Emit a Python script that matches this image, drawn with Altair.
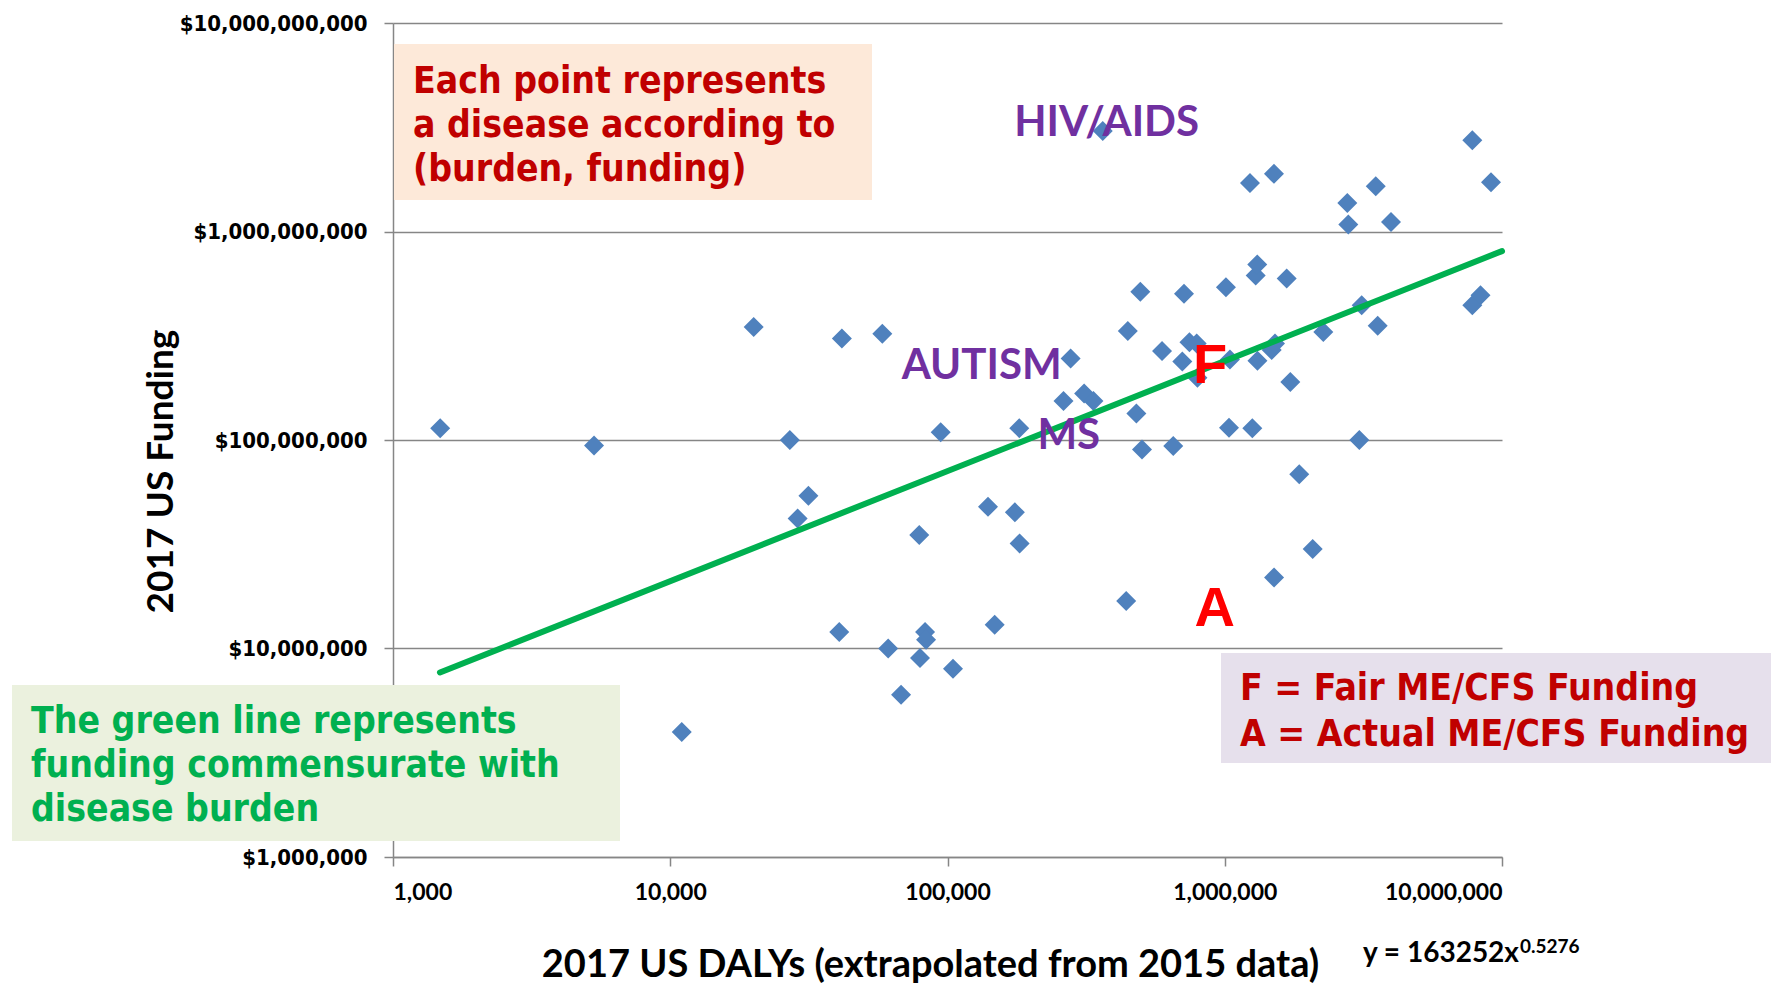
import altair as alt
import pandas as pd

# ---------------- data ----------------
dalys = [1480, 5310, 11000, 20000, 27000, 28800, 31500, 40700, 41600, 58200,
         61100, 68000, 79100, 79600, 83000, 83700, 94500, 104700, 140000, 148000,
         175000, 182000, 181500, 262000, 278000, 311000, 336000, 363000, 441000, 447000,
         480000, 496000, 503000, 594000, 652000, 713000, 703000, 746000, 792000, 797000,
         1010000, 1036000, 1044000, 1233000, 1257000, 1293000, 1310000, 1312000, 1477000, 1518000,
         1505000, 1506000, 1673000, 1724000, 1857000, 2076000, 2267000, 2767000, 2790000, 3058000,
         3119000, 3504000, 3562000, 3978000, 7814000, 7814000, 8366000, 9127000]
funding = [114e6, 94e6, 3.98e6, 348e6, 100e6, 42e6, 54e6, 12e6, 307e6, 323e6,
           10e6, 6e6, 35e6, 9e6, 12e6, 11e6, 109e6, 8e6, 47.8e6, 13e6,
           45e6, 31.9e6, 114e6, 154e6, 246e6, 167e6, 154e6, 3.03e9, 16.9e6, 333e6,
           134e6, 514e6, 90e6, 267e6, 93.5e6, 503e6, 238e6, 294e6, 290e6, 199e6,
           541e6, 114.5e6, 243e6, 1.71e9, 114e6, 615e6, 695e6, 240e6, 270e6, 290e6,
           1.89e9, 21.9e6, 595e6, 190e6, 68.6e6, 30e6, 330e6, 1.371e9, 1.08e9, 100e6,
           443e6, 1.649e9, 353e6, 1.112e9, 2.74e9, 443e6, 495e6, 1.723e9]

label_text = ["HIV/AIDS", "AUTISM", "MS"]
label_dalys = [375000, 132800, 273800]
label_funding = [3.33e9, 226.9e6, 104.4e6]

mecfs_text = ["F", "A"]
mecfs_dalys = [884700, 919800]
mecfs_funding = [226.6e6, 15.47e6]

trend_coef = 163252
trend_exp = 0.5276
trend_x = [1477, 1e7]

x_ticks = [1e3, 1e4, 1e5, 1e6, 1e7]
y_ticks = [1e6, 1e7, 1e8, 1e9, 1e10]

box1_lines = ["Each point represents", "a disease according to", "(burden, funding)"]
box2_lines = ["The green line represents", "funding commensurate with", "disease burden"]
box3_lines = ["F = Fair ME/CFS Funding", "A = Actual ME/CFS Funding"]
eq_main = "y = 163252x"
eq_sup = "0.5276"

# ---------------- frames ----------------
pts = pd.DataFrame({"dalys": dalys, "funding": funding})
lbl = pd.DataFrame({"dalys": label_dalys, "funding": label_funding, "t": label_text})
mec = pd.DataFrame({"dalys": mecfs_dalys, "funding": mecfs_funding, "t": mecfs_text})
trd = pd.DataFrame({"dalys": trend_x, "funding": [trend_coef * v ** trend_exp for v in trend_x]})
one = pd.DataFrame({"k": [0]})

W, H = 1109, 834
GRAY = "#868686"
BOXFONT = "DejaVu Sans Condensed, DejaVu Sans"

xs = alt.Scale(type="log", domain=[1000, 1e7], nice=False)
ys = alt.Scale(type="log", domain=[1e6, 1e10], nice=False)

x_enc = alt.X("dalys:Q", scale=xs, title="2017 US DALYs (extrapolated from 2015 data)",
              axis=alt.Axis(values=x_ticks, format=",.0f", grid=False,
                            labelFont="Lato", labelFontSize=23, labelFontWeight="bold",
                            labelColor="black", labelBaseline="middle", labelPadding=26,
                            labelLimit=400,
                            titleFont="Lato", titleFontSize=38, titleFontWeight="bold",
                            titleColor="black", titleX=537, titleY=108, titleLimit=1200,
                            titleBaseline="middle", titleAlign="center"))
y_enc = alt.Y("funding:Q", scale=ys, title="2017 US Funding",
              axis=alt.Axis(values=y_ticks, format="$,.0f", grid=True,
                            labelFont=BOXFONT, labelFontSize=22, labelFontWeight="bold",
                            labelColor="black", labelPadding=17, labelLimit=400,
                            titleFont="Lato", titleFontSize=37, titleFontWeight="bold",
                            titleColor="black", titleX=-232, titleY=448, titleAngle=-90,
                            titleLimit=800,
                            titleBaseline="middle", titleAlign="center"))

points = alt.Chart(pts).mark_point(shape="diamond", filled=True, size=400,
                                   color="#4F81BD", opacity=1).encode(x=x_enc, y=y_enc)

trend = alt.Chart(trd).mark_line(color="#00B050", strokeWidth=6, strokeCap="round").encode(
    x=alt.X("dalys:Q", scale=xs), y=alt.Y("funding:Q", scale=ys))

labels = alt.Chart(lbl).mark_text(font="Lato", fontSize=42, fontWeight="bold",
                                  color="#7030A0", baseline="middle", align="center").encode(
    x=alt.X("dalys:Q", scale=xs), y=alt.Y("funding:Q", scale=ys), text="t:N")

mlabels = alt.Chart(mec).mark_text(font="Liberation Sans", fontSize=56, fontWeight="bold",
                                   color="#FF0000", baseline="middle", align="center").encode(
    x=alt.X("dalys:Q", scale=xs), y=alt.Y("funding:Q", scale=ys), text="t:N")


def box(fill, x1, x2, y1, y2):
    return alt.Chart(one).mark_rect(color=fill, opacity=1).encode(
        x=alt.value(x1), x2=alt.value(x2), y=alt.value(y1), y2=alt.value(y2))


def btext(lines, color, x, y, size=37, lh=44):
    return alt.Chart(one).mark_text(text=lines, font=BOXFONT, fontSize=size, fontWeight="bold",
                                    color=color, align="left", baseline="alphabetic",
                                    lineHeight=lh, limit=2000).encode(x=alt.value(x), y=alt.value(y))


b1 = box("#FDE9D9", 1, 479, 21, 177)
b2 = box("#EBF1DE", -381, 227, 662, 818)
b3 = box("#E6E0EC", 828, 1400, 630, 740)
t1 = btext(box1_lines, "#C00000", 20, 70)
t2 = btext(box2_lines, "#00B050", -362, 710)
t3 = btext(box3_lines, "#C00000", 847, 677, lh=46)

eq1 = alt.Chart(one).mark_text(text=eq_main, font="Lato", fontSize=28, fontWeight="bold",
                               color="black", align="left", baseline="alphabetic").encode(
    x=alt.value(970), y=alt.value(939))
eq2 = alt.Chart(one).mark_text(text=eq_sup, font="Lato", fontSize=19, fontWeight="bold",
                               color="black", align="left", baseline="alphabetic").encode(
    x=alt.value(1127), y=alt.value(930))

chart = alt.layer(points, b1, b2, b3, trend, labels, mlabels, t1, t2, t3, eq1, eq2).properties(
    width=W, height=H,
    autosize=alt.AutoSizeParams(type="none"),
    padding={"left": 385, "top": 15, "right": 269, "bottom": 127},
).configure_view(stroke=None).configure_axis(
    domainColor=GRAY, domainWidth=1.5, tickColor=GRAY, tickWidth=1.5, tickSize=9,
    gridColor=GRAY, gridWidth=1.5,
)

chart.save("out.html", embed_options={"renderer": "svg", "actions": False})
